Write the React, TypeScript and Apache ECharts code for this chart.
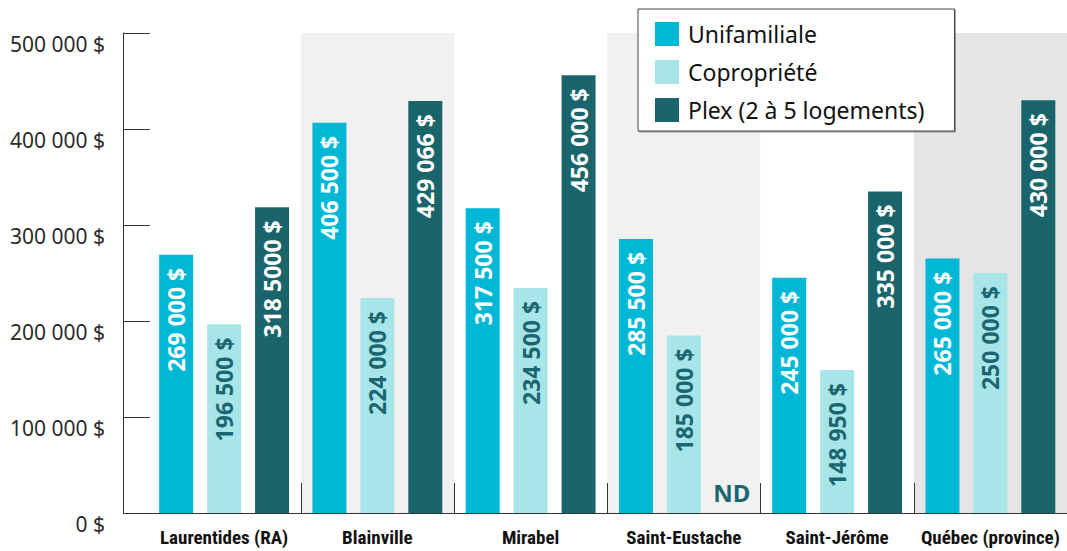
import React, { useEffect, useRef } from "react";
import * as echarts from "echarts";

const categories = ["Laurentides (RA)", "Blainville", "Mirabel", "Saint-Eustache", "Saint-Jérôme", "Québec (province)"];
const seriesNames = ["Unifamiliale", "Copropriété", "Plex (2 à 5 logements)"];

const unifamiliale = [269000, 406500, 317500, 285500, 245000, 265000];
const copropriete = [196500, 224000, 234500, 185000, 148950, 250000];
const plex: (number | null)[] = [318500, 429066, 456000, null, 335000, 430000];

const unifLabels = ["269 000 $", "406 500 $", "317 500 $", "285 500 $", "245 000 $", "265 000 $"];
const coproLabels = ["196 500 $", "224 000 $", "234 500 $", "185 000 $", "148 950 $", "250 000 $"];
const plexLabels = ["318 5000 $", "429 066 $", "456 000 $", "ND", "335 000 $", "430 000 $"];

const yTicks = [0, 100000, 200000, 300000, 400000, 500000];
const yTickLabels = ["0 $", "100 000 $", "200 000 $", "300 000 $", "400 000 $", "500 000 $"];

const colors = ["#00b8d6", "#a8e5e8", "#1a646c"];
const bandColors = ["#ffffff", "#f1f1f1", "#ffffff", "#f1f1f1", "#ffffff", "#e5e5e5"];

const SANS = "'Noto Sans', 'Open Sans', sans-serif";
const NARROW = "'Roboto Condensed', 'Liberation Sans Narrow', Roboto, sans-serif";

export default function App() {
  const ref = useRef<HTMLDivElement>(null);

  useEffect(() => {
    if (!ref.current) return;
    const chart = echarts.init(ref.current, null, { renderer: "svg", width: 1067, height: 551 });

    const baseLabel = {
      show: true,
      position: "insideTop",
      rotate: 90,
      align: "right",
      verticalAlign: "middle",
      distance: 13,
      fontSize: 23,
      fontWeight: "bold",
      fontFamily: SANS,
    };

    const option: any = {
      animation: false,
      backgroundColor: "#ffffff",
      legend: {
        data: seriesNames,
        orient: "vertical",
        left: 638,
        top: 9,
        itemWidth: 24,
        itemHeight: 24,
        itemGap: 14,
        padding: [13, 30, 9, 17],
        backgroundColor: "#ffffff",
        borderColor: "#444444",
        borderWidth: 1,
        shadowColor: "rgba(0,0,0,0.35)",
        shadowBlur: 1,
        shadowOffsetX: 1,
        shadowOffsetY: 1,
        icon: "rect",
        selectedMode: false,
        textStyle: { fontSize: 23, color: "#111111", fontFamily: SANS, padding: [0, 0, 0, 4], lineHeight: 24 },
      },
      grid: { left: 147.5, width: 924, top: 33, bottom: 38, containLabel: false },
      xAxis: {
        type: "category",
        data: categories,
        boundaryGap: true,
        axisLine: { show: true, lineStyle: { color: "#333333", width: 1 } },
        axisTick: {
          show: true,
          inside: true,
          length: 30,
          interval: (i: number) => i > 0,
          lineStyle: { color: "#333333", width: 1 },
        },
        axisLabel: {
          interval: 0,
          margin: 15,
          fontSize: 19,
          fontWeight: "bold",
          fontFamily: NARROW,
          color: "#111111",
        },
        splitLine: { show: false },
        splitArea: { show: true, interval: 0, areaStyle: { color: bandColors } },
      },
      yAxis: {
        type: "value",
        min: 0,
        max: 500000,
        interval: 100000,
        offset: 24.5,
        axisLine: { show: true, lineStyle: { color: "#333333", width: 1 } },
        axisTick: { show: true, inside: true, length: 27, lineStyle: { color: "#333333", width: 1 } },
        splitLine: { show: false },
        axisLabel: {
          margin: 18,
          fontSize: 21,
          color: "#2b2b2b",
          fontFamily: SANS,
          verticalAlign: "top",
          formatter: (v: number) => yTickLabels[yTicks.indexOf(v)] ?? "",
        },
      },
      series: [
        {
          name: seriesNames[0],
          type: "bar",
          barWidth: 34,
          barGap: "41%",
          itemStyle: { color: colors[0] },
          label: { ...baseLabel, color: "#ffffff" },
          data: unifamiliale.map((v, i) => ({ value: v, label: { formatter: unifLabels[i] } })),
        },
        {
          name: seriesNames[1],
          type: "bar",
          barWidth: 34,
          barGap: "41%",
          itemStyle: { color: colors[1] },
          label: { ...baseLabel, color: "#1b6670" },
          data: copropriete.map((v, i) => ({ value: v, label: { formatter: coproLabels[i] } })),
        },
        {
          name: seriesNames[2],
          type: "bar",
          barWidth: 34,
          barGap: "41%",
          itemStyle: { color: colors[2] },
          label: { ...baseLabel, color: "#ffffff" },
          data: plex.map((v, i) =>
            v == null
              ? {
                  value: 0,
                  label: {
                    show: true,
                    formatter: plexLabels[i],
                    position: "top",
                    rotate: 0,
                    align: "center",
                    verticalAlign: "bottom",
                    distance: 9,
                    color: "#1b6670",
                    fontSize: 24,
                  },
                }
              : { value: v, label: { formatter: plexLabels[i] } }
          ),
        },
      ],
    };

    chart.setOption(option);
    return () => chart.dispose();
  }, []);

  return (
    <div
      ref={ref}
      style={{ position: "fixed", left: 0, top: 0, width: 1067, height: 551, background: "#ffffff" }}
    />
  );
}
